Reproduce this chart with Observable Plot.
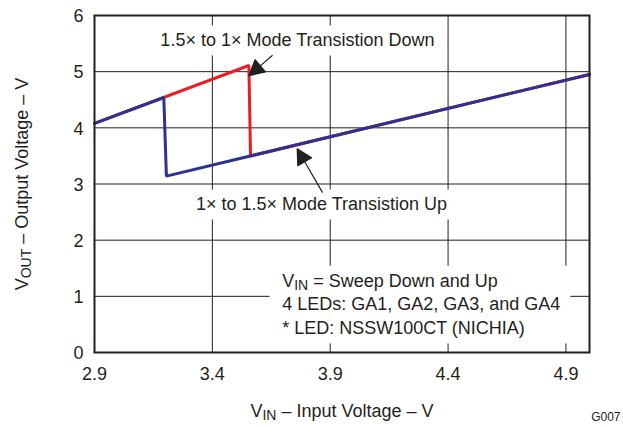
<!DOCTYPE html>
<html><head><meta charset="utf-8">
<script src="https://cdn.jsdelivr.net/npm/d3@7"></script>
<script src="https://cdn.jsdelivr.net/npm/@observablehq/plot@0.6"></script>
<style>html,body{margin:0;padding:0;background:#fff}</style>
</head><body><div id="chart"></div>
<script>
// ---- data ----
const xTicks = [2.9, 3.4, 3.9, 4.4, 4.9];
const yTicks = [0, 1, 2, 3, 4, 5, 6];
const sweepDownVin  = [2.9, 3.555, 3.562, 5.0];
const sweepDownVout = [4.08, 5.11, 3.50, 4.95];
const sweepUpVin    = [2.9, 3.194, 3.205, 5.0];
const sweepUpVout   = [4.08, 4.54, 3.14, 4.95];
const labelTexts = ["1.5× to 1× Mode Transistion Down", "1× to 1.5× Mode Transistion Up"];
const labelX = [3.761, 3.863];
const labelY = [5.551, 2.631];
const noteLines = ["V_{IN} = Sweep Down and Up", "4 LEDs: GA1, GA2, GA3, and GA4", "* LED: NSSW100CT (NICHIA)"];
const noteX = [3.696, 3.696, 3.696];
const noteY = [1.266, 0.851, 0.424];
const arrowTipX = [3.555, 3.760];
const arrowTipY = [4.93, 3.627];
const arrowAngle = [229.4, 330];
const arrowLength = [30.8, 50.1];
const xTitle = "V_{IN} – Input Voltage – V";
const yTitle = "V_{OUT} – Output Voltage – V";
const figId = "G007";

// ---- tables ----
const sweepDown = sweepDownVin.map((v, i) => ({vin: v, vout: sweepDownVout[i]}));
const sweepUp = sweepUpVin.map((v, i) => ({vin: v, vout: sweepUpVout[i]}));
const labels = labelTexts.map((t, i) => ({t, x: labelX[i], y: labelY[i]}));
const notes = noteLines.map((t, i) => ({t, x: noteX[i], y: noteY[i]}));
const arrows = arrowTipX.map((x, i) => ({x, y: arrowTipY[i], a: arrowAngle[i], l: arrowLength[i]}));

const ink = "#231f20";
const headLen = 15, headW = 16;
const arrowShape = {
  draw(context, l) {
    context.moveTo(0, 0);
    context.lineTo(0, -(l - headLen));
    context.moveTo(0, -l);
    context.lineTo(-headW / 2, -l + headLen);
    context.lineTo(headW / 2, -l + headLen);
    context.closePath();
  }
};

const chart = Plot.plot({
  width: 623, height: 427,
  marginLeft: 94, marginRight: 34, marginTop: 15, marginBottom: 75,
  style: {fontFamily: "'Liberation Sans', Arial, Helvetica, sans-serif", fontSize: "18px", color: ink, background: "#fff"},
  x: {domain: [2.9, 5.0], label: null},
  y: {domain: [0, 6], label: null},
  length: {type: "identity"},
  marks: [
    Plot.gridX(xTicks, {stroke: ink, strokeOpacity: 1, strokeWidth: 1}),
    Plot.gridY(yTicks, {stroke: ink, strokeOpacity: 1, strokeWidth: 1}),
    Plot.line(sweepDown, {x: "vin", y: "vout", stroke: "#ed1c24", strokeWidth: 3, strokeLinejoin: "miter"}),
    Plot.line(sweepUp, {x: "vin", y: "vout", stroke: "#2e3192", strokeWidth: 3, strokeLinejoin: "miter"}),
    Plot.text(labels, {x: "x", y: "y", text: "t", textAnchor: "middle", lineAnchor: "middle", fill: ink}),
    Plot.text(notes, {x: "x", y: "y", text: "t", textAnchor: "start", lineAnchor: "middle", fill: ink}),
    Plot.vector(arrows, {x: "x", y: "y", rotate: "a", length: "l", anchor: "end", shape: arrowShape, fill: ink, stroke: ink, strokeWidth: 1.2}),
    Plot.frame({stroke: ink, strokeWidth: 2}),
    Plot.axisX(xTicks, {tickSize: 0, tickPadding: 14.5, tickFormat: d => d.toFixed(1), label: null}),
    Plot.axisY(yTicks, {tickSize: 0, tickPadding: 11, tickFormat: d => String(d), label: null, dy: 1}),
    Plot.text([xTitle], {text: d => d, frameAnchor: "bottom", dy: 64.7, textAnchor: "middle", lineAnchor: "bottom", fill: ink}),
    Plot.text([yTitle], {text: d => d, frameAnchor: "left", dx: -67, rotate: -90, textAnchor: "middle", lineAnchor: "bottom", fill: ink}),
    Plot.text([figId], {text: d => d, frameAnchor: "bottom-right", dx: 31, dy: 68, textAnchor: "end", lineAnchor: "bottom", fontSize: 12, fill: ink})
  ]
});
document.getElementById("chart").append(chart);
const svg = chart;

// collect annotation text elements before processing
const allTexts = Array.from(svg.querySelectorAll("text"));
const findText = s => allTexts.find(el => el.textContent === s);
const groups = [
  {els: [findText(labelTexts[0])], pad: {l: 6, r: 6, t: 5, b: 5}},
  {els: [findText(labelTexts[1])], pad: {l: 6, r: 6, t: 5, b: 5}},
  {els: noteLines.map(findText), pad: {l: 12.5, r: 10, t: 5.5, b: 5}}
];

// subscripts
function subscriptify(el) {
  const s = el.textContent;
  if (!s.includes("_{")) return;
  const parts = s.split(/_\{([^}]*)\}/);
  el.textContent = "";
  parts.forEach((p, i) => {
    if (!p) return;
    const t = document.createElementNS("http://www.w3.org/2000/svg", "tspan");
    t.textContent = p;
    if (i % 2 === 1) { t.setAttribute("font-size", "14"); t.setAttribute("dy", "3"); }
    else if (i > 0) t.setAttribute("dy", "-3");
    el.appendChild(t);
  });
}
allTexts.forEach(subscriptify);

// white boxes behind annotations
const sr = svg.getBoundingClientRect();
for (const g of groups) {
  const els = g.els.filter(Boolean);
  if (!els.length) continue;
  let x0 = Infinity, y0 = Infinity, x1 = -Infinity, y1 = -Infinity;
  for (const el of els) {
    const r = el.getBoundingClientRect();
    x0 = Math.min(x0, r.left); y0 = Math.min(y0, r.top);
    x1 = Math.max(x1, r.right); y1 = Math.max(y1, r.bottom);
  }
  const rect = document.createElementNS("http://www.w3.org/2000/svg", "rect");
  rect.setAttribute("x", x0 - sr.left - g.pad.l);
  rect.setAttribute("y", y0 - sr.top - g.pad.t);
  rect.setAttribute("width", x1 - x0 + g.pad.l + g.pad.r);
  rect.setAttribute("height", y1 - y0 + g.pad.t + g.pad.b);
  rect.setAttribute("fill", "#fff");
  const parentG = els[0].parentNode;
  parentG.parentNode.insertBefore(rect, parentG);
}
</script>
</body></html>
